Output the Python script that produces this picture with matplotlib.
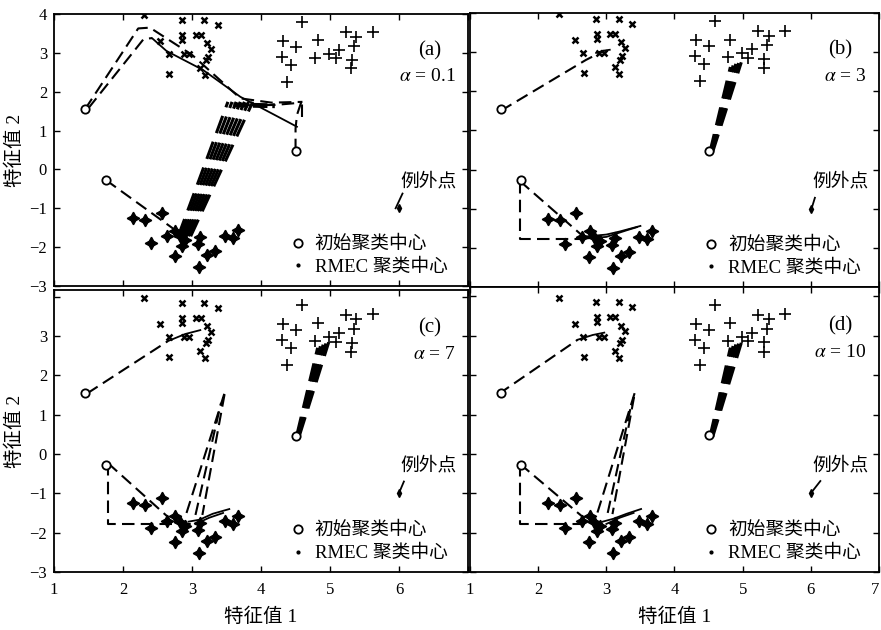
import matplotlib.pyplot as plt
from matplotlib.lines import Line2D

plt.rcParams['font.family'] = ['Liberation Serif', 'Noto Sans CJK SC']
plt.rcParams['mathtext.fontset'] = 'stix'
plt.rcParams['axes.unicode_minus'] = True

# samples (same in every panel)
x_cross = [2.30, 2.85, 3.18, 3.38, 2.86, 3.06, 3.13, 2.54, 2.86, 3.21, 3.27, 2.66, 2.89, 2.96, 3.23, 3.20, 3.12, 2.67, 3.19]
y_cross = [3.97, 3.85, 3.85, 3.72, 3.47, 3.47, 3.47, 3.30, 3.34, 3.25, 3.11, 2.98, 2.98, 2.97, 2.90, 2.81, 2.62, 2.46, 2.43]
x_plus = [4.59, 4.32, 4.50, 4.82, 5.23, 5.38, 5.62, 4.30, 4.44, 4.78, 4.99, 5.13, 5.08, 5.35, 5.32, 5.31, 4.37]
y_plus = [3.79, 3.30, 3.15, 3.32, 3.53, 3.42, 3.55, 2.90, 2.69, 2.88, 2.98, 3.07, 2.86, 3.17, 2.83, 2.60, 2.26]
x_star = [2.15, 2.32, 2.56, 2.40, 2.64, 2.76, 2.82, 2.90, 2.86, 2.75, 3.08, 3.12, 3.22, 3.33, 3.10, 3.48, 3.60, 3.67]
y_star = [-1.25, -1.30, -1.12, -1.89, -1.71, -1.58, -1.72, -1.82, -1.96, -2.23, -1.92, -1.75, -2.21, -2.10, -2.51, -1.71, -1.77, -1.57]
outlier_x = [6.0]
outlier_y = [-1.0]

# initial cluster centres
init_x = [1.45, 1.75, 4.50]
init_y = [1.55, -0.27, 0.47]

alphas = {'a': '0.1', 'b': '3', 'c': '7', 'd': '10'}

# centre trajectories, per panel
dashed = {
    'a': [([1.45, 2.22, 2.39, 3.00, 3.70, 4.15, 4.60], [1.55, 3.63, 3.65, 2.95, 1.83, 1.72, 1.74]),
          ([1.50, 2.30, 2.42], [1.58, 3.36, 3.38]),
          ([4.50, 4.50, 4.52, 4.58, 4.20, 3.65], [0.47, 1.05, 1.40, 1.72, 1.66, 1.65]),
          ([4.60, 4.60], [1.35, 1.72]),
          ([1.75, 2.85], [-0.27, -1.68])],
    'b': [([1.45, 2.70, 2.97], [1.50, 2.80, 3.04]),
          ([1.73, 1.73, 2.63], [-0.29, -1.77, -1.77]),
          ([1.73, 2.63], [-0.29, -1.66])],
    'c': [([1.48, 2.65], [1.54, 2.87]),
          ([1.78, 1.78, 3.11], [-0.23, -1.77, -1.77]),
          ([1.78, 2.65], [-0.23, -1.60]),
          ([2.92, 3.48, 3.15], [-1.50, 1.60, -1.55]),
          ([3.05, 3.42], [-1.55, 1.30])],
    'd': [([1.42, 2.58], [1.52, 2.90]),
          ([1.73, 1.73, 2.68], [-0.25, -1.77, -1.77]),
          ([1.73, 2.68], [-0.25, -1.64]),
          ([2.87, 3.42, 3.09], [-1.49, 1.57, -1.53]),
          ([3.02, 3.36], [-1.50, 1.20])],
}
solid = {
    'a': [([2.42, 2.63, 3.16, 3.70, 4.52], [3.38, 3.05, 2.56, 1.87, 1.10]),
          ([5.95, 6.05], [-1.00, -0.62])],
    'b': [([2.85, 2.97, 3.05], [2.98, 3.04, 3.06]),
          ([2.63, 3.00, 3.20, 3.50], [-1.72, -1.66, -1.58, -1.44]),
          ([2.70, 3.00, 3.30, 3.45], [-1.76, -1.72, -1.55, -1.47]),
          ([6.00, 6.06], [-1.06, -0.72])],
    'c': [([2.65, 2.90, 3.12], [2.87, 3.05, 3.15]),
          ([2.95, 3.11, 3.30, 3.54], [-1.72, -1.67, -1.52, -1.40]),
          ([3.05, 3.25, 3.45], [-1.78, -1.62, -1.50]),
          ([6.00, 6.07], [-0.99, -0.70])],
    'd': [([2.58, 2.80, 2.97], [2.90, 3.02, 3.08]),
          ([2.95, 3.10, 3.30, 3.51], [-1.72, -1.65, -1.52, -1.40]),
          ([3.00, 3.20, 3.40], [-1.78, -1.62, -1.50]),
          ([6.00, 6.14], [-1.00, -0.69])],
}
# dense bands of repeated iterations: start and end points of each line
band_x0 = {'a': [2.80, 2.83, 2.86, 2.89, 2.92, 2.95, 2.98],
           'b': [4.52, 4.53, 4.54, 4.55, 4.56],
           'c': [4.52, 4.53, 4.54, 4.55, 4.56],
           'd': [4.52, 4.53, 4.54, 4.55, 4.56]}
band_y0 = {'a': [-1.72] * 7, 'b': [0.45] * 5, 'c': [0.49] * 5, 'd': [0.43] * 5}
band_x1 = {'a': [3.52, 3.58, 3.64, 3.70, 3.76, 3.82, 3.88],
           'b': [4.82, 4.86, 4.90, 4.94, 4.98],
           'c': [4.82, 4.86, 4.90, 4.94, 4.98],
           'd': [4.82, 4.86, 4.90, 4.94, 4.98]}
band_y1 = {'a': [1.74] * 7,
           'b': [2.62, 2.66, 2.70, 2.72, 2.74],
           'c': [2.70, 2.74, 2.78, 2.81, 2.84],
           'd': [2.70, 2.74, 2.78, 2.80, 2.82]}

fig = plt.figure(figsize=(8.81, 6.30), dpi=100)
rects = {'a': [0.0613, 0.546, 0.470, 0.4317],
         'b': [0.5335, 0.5444, 0.4642, 0.435],
         'c': [0.0613, 0.0921, 0.470, 0.4476],
         'd': [0.5335, 0.0921, 0.4642, 0.4524]}
ytops = {'a': 4, 'b': 4, 'c': 4.17, 'd': 4.24}
dash = (0, (6, 3))

for key in 'abcd':
    ax = fig.add_axes(rects[key])
    ax.set_xlim(1, 7)
    ax.set_ylim(-3, ytops[key])

    for xs, ys in dashed[key]:
        ax.plot(xs, ys, color='k', lw=1.5, ls=dash)
    for xs, ys in solid[key]:
        ax.plot(xs, ys, color='k', lw=1.3)
    for i in range(len(band_x0[key])):
        ax.plot([band_x0[key][i], band_x1[key][i]], [band_y0[key][i], band_y1[key][i]],
                color='k', lw=2.2, ls=dash)
    if key == 'a':
        ax.plot([3.60, 4.20], [1.66, 1.64], color='k', lw=3.5, ls=(0, (3, 1)))

    ax.plot(x_cross, y_cross, 'x', color='k', ms=4, mew=1.8)
    ax.plot(x_plus, y_plus, '+', color='k', ms=8, mew=1.2)
    ax.plot(x_star, y_star, marker=(4, 1, 0), ls='none', color='k', ms=9)
    ax.plot(outlier_x, outlier_y, marker='d', ls='none', color='k', ms=4)
    ax.plot(init_x, init_y, 'o', mfc='white', mec='k', ms=6, mew=1.3, zorder=5)

    ax.text(6.02, -0.3, '例外点', fontsize=13.5, va='center')
    ax.text(0.935, 0.865, '(%s)' % key, transform=ax.transAxes, ha='right', va='center', fontsize=15)
    ax.text(0.97, 0.77, r'$\alpha$ = ' + alphas[key], transform=ax.transAxes,
            ha='right', va='center', fontsize=14)

    handles = [Line2D([], [], marker='o', mfc='white', mec='k', ms=6, mew=1.3, ls='none'),
               Line2D([], [], marker='.', color='k', ms=4, ls='none')]
    ax.legend(handles, ['初始聚类中心', 'RMEC 聚类中心'], loc='lower left',
              bbox_to_anchor=(0.53, -0.025), frameon=False, fontsize=13.5,
              handlelength=0.8, handletextpad=0.5, labelspacing=0.3)

    ax.tick_params(direction='in', top=True, right=True, length=4, width=1, labelsize=12)
    ax.tick_params(axis='x', pad=7)
    ax.tick_params(axis='y', pad=5)
    for s in ax.spines.values():
        s.set_linewidth(1.3)

    ax.set_xticks(range(1, 8))
    ax.set_yticks(range(-3, 5))
    if key in 'ab':
        ax.set_xticklabels([])
    elif key == 'c':
        ax.set_xticklabels(['1', '2', '3', '4', '5', '6', ''])
    else:
        ax.get_xticklabels()[-1].set_horizontalalignment('right')
    if key in 'bd':
        ax.set_yticklabels([])
    elif key == 'c':
        ax.set_yticklabels(['\u22123', '\u22122', '\u22121', '0', '1', '2', '3', ''])
    if key in 'ac':
        ax.set_ylabel('特征值 2', fontsize=14, labelpad=4)
    if key in 'cd':
        ax.set_xlabel('特征值 1', fontsize=14, labelpad=7)

fig.savefig('out.png', dpi=100)
